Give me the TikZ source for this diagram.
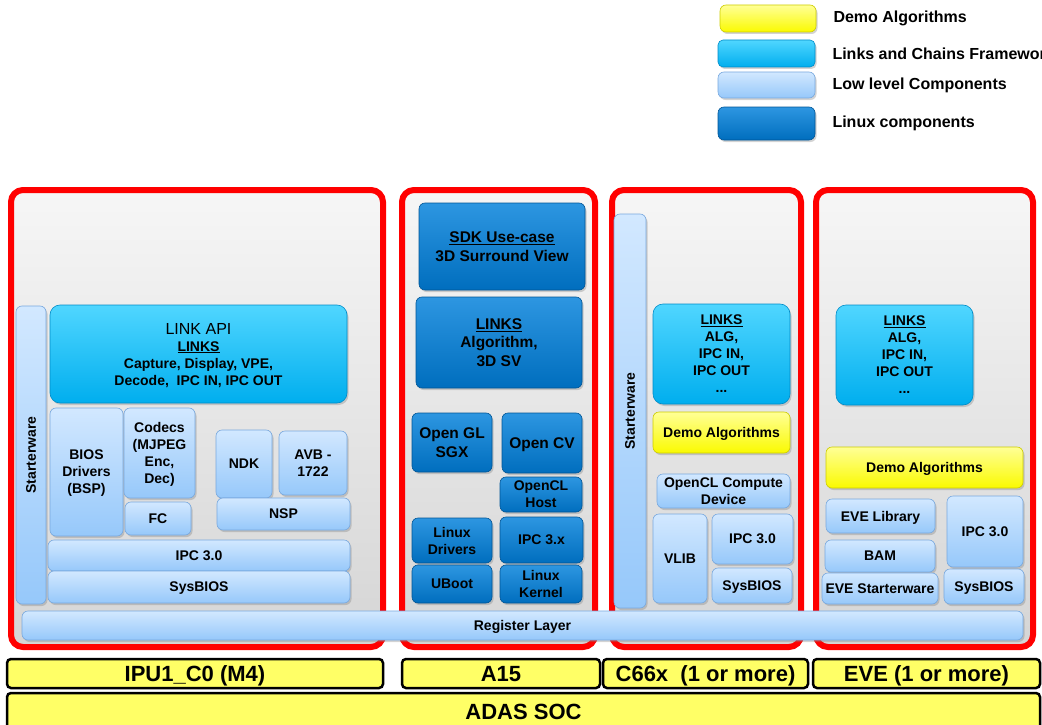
\documentclass[tikz,border=0pt]{standalone}
\usepackage{fontspec}
\setmainfont{Liberation Sans}
\usetikzlibrary{positioning,shadows}

\definecolor{lowblue}{RGB}{150,200,250}
\definecolor{lowbluetop}{RGB}{210,232,255}
\definecolor{lowblueedge}{RGB}{120,168,222}
\definecolor{linkcyan}{RGB}{0,174,238}
\definecolor{linkcyantop}{RGB}{80,214,255}
\definecolor{linkcyanedge}{RGB}{0,140,200}
\definecolor{linuxblue}{RGB}{0,110,190}
\definecolor{linuxbluetop}{RGB}{45,150,225}
\definecolor{linuxblueedge}{RGB}{0,85,150}
\definecolor{demoyellow}{RGB}{250,250,0}
\definecolor{demoyellowtop}{RGB}{255,255,150}
\definecolor{demoyellowedge}{RGB}{205,205,0}
\definecolor{coreyellow}{RGB}{255,255,102}
\definecolor{panelred}{RGB}{255,0,0}

\tikzset{
  block/.style={inner sep=0pt, align=center, rounded corners=6pt, draw, line width=0.6pt,
    font=\fontsize{14}{17}\selectfont\bfseries, text depth=0pt,
    drop shadow={opacity=0.35, shadow xshift=1.5pt, shadow yshift=-2pt}},
  lowbox/.style={block, draw=lowblueedge, top color=lowbluetop, bottom color=lowblue},
  linkbox/.style={block, rounded corners=10pt, draw=linkcyanedge, top color=linkcyantop, bottom color=linkcyan},
  linuxbox/.style={block, draw=linuxblueedge, top color=linuxbluetop, bottom color=linuxblue},
  demobox/.style={block, draw=demoyellowedge, top color=demoyellowtop, bottom color=demoyellow},
  bigtext/.style={font=\fontsize{15.5}{18.5}\selectfont\bfseries},
  panel/.style={inner sep=0pt, draw=panelred, line width=6pt, rounded corners=12pt,
    top color=gray!7, bottom color=gray!33},
  corebar/.style={inner sep=0pt, draw=black, line width=2.5pt, rounded corners=4pt,
    fill=coreyellow, font=\fontsize{22}{24}\selectfont\bfseries, text depth=0pt},
  legtext/.style={inner sep=0pt, font=\fontsize{16}{19}\selectfont\bfseries}
}

% style, name, x1, y1, x2, y2, text
\newcommand{\swblock}[7] {\pgfmathsetmacro\swW{#5-#3}\pgfmathsetmacro\swH{#6-#4}
  \node [#1, minimum width=\swW pt, minimum height=\swH pt] (#2) at ({(#3+#5)/2},{(#4+#6)/2}) {#7};}
\newcommand{\swvblock}[7] {\pgfmathsetmacro\swW{#5-#3}\pgfmathsetmacro\swH{#6-#4}
  \node [#1, rotate=90, minimum width=\swH pt, minimum height=\swW pt] (#2) at ({(#3+#5)/2},{(#4+#6)/2}) {#7};}
\newcommand{\swpanel}[5] {\swblock{panel}{#1}{#2}{#3}{#4}{#5}{}}
\newcommand{\swcore}[6] {\swblock{corebar}{#1}{#2}{#3}{#4}{#5}{#6}}
\newcommand{\swlegend}[7] {\swblock{#1}{#2}{#3}{#4}{#5}{#6}{} \node [legtext, right=17pt of #2] (#2txt) {#7};}

\begin{document}
\begin{tikzpicture}[x=1pt, y=-1pt]
\useasboundingbox (0,0) rectangle (1042,725);

% legend
\swlegend{demobox}{legDemo}{720}{5}{816}{32}{Demo Algorithms}
\swlegend{linkbox, rounded corners=5pt}{legLinks}{718}{40}{815}{67}{Links and Chains Framework}
\swlegend{lowbox}{legLow}{718}{72}{815}{98}{Low level Components}
\swlegend{linuxbox}{legLinux}{718}{107}{815}{140}{Linux components}

% cores
\swpanel{panIPU}{11}{190}{383}{647}
\swpanel{panA15}{402}{190}{595}{647}
\swpanel{panC66}{612}{190}{801}{647}
\swpanel{panEVE}{816}{190}{1033}{647}

% IPU1_C0
\swvblock{lowbox}{swIPU}{16}{306}{46}{604}{Starterware}
\swblock{linkbox}{linkIPU}{50}{305}{347}{403}{{\mdseries\fontsize{16}{21}\selectfont LINK API}\\ \underline{LINKS}\\ Capture, Display, VPE,\\ Decode,~ IPC IN, IPC OUT}
\swblock{lowbox}{biosIPU}{50}{408}{123}{536}{BIOS\\Drivers\\(BSP)}
\swblock{lowbox}{codecIPU}{124}{408}{195}{498}{Codecs\\(MJPEG\\Enc,\\Dec)}
\swblock{lowbox}{fcIPU}{125}{502}{191}{535}{FC}
\swblock{lowbox}{ndkIPU}{216}{430}{272}{498}{NDK}
\swblock{lowbox}{avbIPU}{279}{431}{347}{495}{AVB -\\1722}
\swblock{lowbox}{nspIPU}{217}{498}{350}{530}{NSP}
\swblock{lowbox}{ipcIPU}{48}{540}{350}{571}{IPC 3.0}
\swblock{lowbox}{sysIPU}{48}{571}{350}{603}{SysBIOS}

% A15
\swblock{linuxbox, bigtext}{sdkA15}{419}{203}{585}{290}{\underline{SDK Use-case}\\3D Surround View}
\swblock{linuxbox, bigtext}{linksA15}{416}{297}{582}{388}{\underline{LINKS}\\Algorithm,\\3D SV}
\swblock{linuxbox, bigtext}{oglA15}{412}{413}{492}{472}{Open GL\\SGX}
\swblock{linuxbox, bigtext}{ocvA15}{502}{413}{582}{473}{Open CV}
\swblock{linuxbox}{oclA15}{500}{477}{582}{512}{OpenCL\\Host}
\swblock{linuxbox}{ldrvA15}{412}{518}{492}{563}{Linux\\Drivers}
\swblock{linuxbox}{ipcA15}{500}{517}{583}{563}{IPC 3.x}
\swblock{linuxbox}{ubootA15}{412}{565}{492}{603}{UBoot}
\swblock{linuxbox}{kernA15}{500}{565}{582}{603}{Linux\\Kernel}

% C66x
\swvblock{lowbox}{swC66}{614}{214}{646}{608}{Starterware}
\swblock{linkbox}{linksC66}{653}{304}{790}{404}{\underline{LINKS}\\ALG,\\IPC IN,\\IPC OUT\\...}
\swblock{demobox}{demoC66}{653}{412}{790}{453}{Demo Algorithms}
\swblock{lowbox}{oclC66}{657}{474}{790}{508}{OpenCL Compute\\Device}
\swblock{lowbox}{vlibC66}{653}{514}{707}{603}{VLIB}
\swblock{lowbox}{ipcC66}{712}{514}{793}{564}{IPC 3.0}
\swblock{lowbox}{sysC66}{712}{568}{792}{603}{SysBIOS}

% EVE
\swblock{linkbox}{linksEVE}{836}{305}{973}{405}{\underline{LINKS}\\ALG,\\IPC IN,\\IPC OUT\\...}
\swblock{demobox}{demoEVE}{826}{447}{1023}{488}{Demo Algorithms}
\swblock{lowbox}{libEVE}{826}{499}{935}{533}{EVE Library}
\swblock{lowbox}{bamEVE}{825}{540}{935}{572}{BAM}
\swblock{lowbox}{swEVE}{822}{573}{938}{604}{EVE Starterware}
\swblock{lowbox}{ipcEVE}{947}{496}{1023}{567}{IPC 3.0}
\swblock{lowbox}{sysEVE}{944}{569}{1024}{604}{SysBIOS}

\swblock{lowbox}{regLayer}{22}{611}{1023}{640}{Register Layer}

% core names
\swcore{labIPU}{7}{659}{383}{688}{IPU1\_C0 (M4)}
\swcore{labA15}{402}{659}{600}{688}{A15}
\swcore{labC66}{603}{659}{808}{688}{C66x~ (1 or more)}
\swcore{labEVE}{813}{659}{1040}{688}{EVE (1 or more)}
\swcore{labSOC}{7}{693}{1040}{730}{ADAS SOC}
\end{tikzpicture}
\end{document}
